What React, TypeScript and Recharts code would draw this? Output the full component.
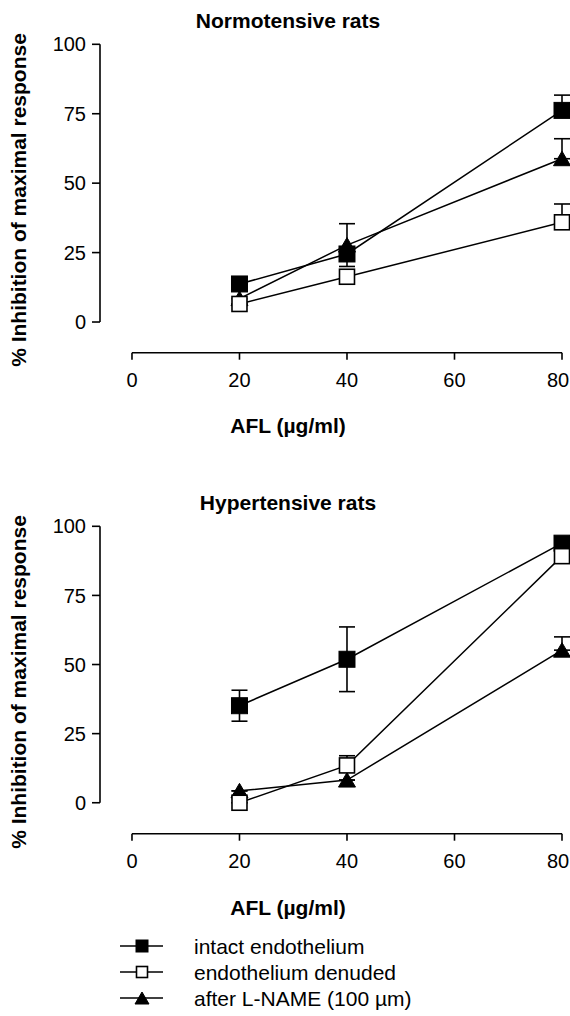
import React from 'react';
import { LineChart, Line, XAxis, YAxis, ErrorBar, ReferenceLine } from 'recharts';

const FONT = '"Liberation Sans", Arial, Helvetica, sans-serif';

const doses = [20, 40, 80];
const xTicks = [0, 20, 40, 60, 80];
const yTicks = [0, 25, 50, 75, 100];
const seriesNames = ['intact endothelium', 'endothelium denuded', 'after L-NAME (100 µm)'];
const xLabel = 'AFL (µg/ml)';
const yLabel = '% Inhibition of maximal response';

// Normotensive rats
const normIntact = [13.7, 24.5, 76.2];
const normIntactErr = [[0, 0], [0, 0], [0, 5.5]];
const normDenuded = [6.5, 16.3, 35.9];
const normDenudedErr = [[0, 0], [0, 0], [0, 6.6]];
const normLname = [8.4, 27.7, 58.8];
const normLnameErr = [[0, 4], [7.7, 7.7], [0, 7.2]];

// Hypertensive rats
const hypIntact = [35.1, 51.9, 93.9];
const hypIntactErr = [[5.6, 5.6], [11.7, 11.7], [0, 0]];
const hypDenuded = [0, 13.5, 89.2];
const hypDenudedErr = [[0, 0], [0, 3.5], [0, 0]];
const hypLname = [4.3, 8.2, 55.2];
const hypLnameErr = [[0, 0], [0, 0], [0, 4.8]];

const XMIN = -5.95;

function buildRows(intact: number[], intactErr: number[][], den: number[], denErr: number[][], ln: number[], lnErr: number[][]) {
  return doses.map((x, i) => ({
    x,
    intact: intact[i],
    intactErr: intactErr[i],
    denuded: den[i],
    denudedErr: denErr[i],
    lname: ln[i],
    lnameErr: lnErr[i],
  }));
}

const normRows = buildRows(normIntact, normIntactErr, normDenuded, normDenudedErr, normLname, normLnameErr);
const hypRows = buildRows(hypIntact, hypIntactErr, hypDenuded, hypDenudedErr, hypLname, hypLnameErr);

const FilledSquare = (p: any) => (
  <rect key={`fs-${p.index}`} x={p.cx - 8} y={p.cy - 8} width={16} height={16} fill="#000" stroke="#000" strokeWidth={1} />
);
const OpenSquare = (p: any) => (
  <rect key={`os-${p.index}`} x={p.cx - 7.5} y={p.cy - 7.5} width={15} height={15} fill="#fff" stroke="#000" strokeWidth={1.6} />
);
const Triangle = (p: any) => (
  <polygon key={`tr-${p.index}`} points={`${p.cx},${p.cy - 7.5} ${p.cx - 8.5},${p.cy + 7} ${p.cx + 8.5},${p.cy + 7}`} fill="#000" stroke="#000" strokeWidth={1} />
);

const XTick = (p: any) => {
  const v = p.payload.value;
  const dx = v === 80 ? -4 : 0;
  return (
    <text x={p.x + dx} y={p.y} dy="0.71em" textAnchor="middle" fill="#000" fontSize={20} fontFamily={FONT}>
      {v}
    </text>
  );
};

type PanelProps = { rows: any[]; ymin: number; top: number; mTop: number; mBottom: number; title: string };

function Panel({ rows, ymin, top, mTop, mBottom, title }: PanelProps) {
  const tickStyle = { fill: '#000', fontSize: 20, fontFamily: FONT };
  return (
    <div style={{ position: 'absolute', left: 0, top, width: 570, height: 440 }}>
      <LineChart width={570} height={400} data={rows} margin={{ top: mTop, right: 8, left: 40, bottom: mBottom }}>
        <XAxis
          type="number"
          dataKey="x"
          domain={[XMIN, 80]}
          ticks={xTicks}
          interval={0}
          axisLine={false}
          tickLine={{ stroke: '#000', strokeWidth: 1.6 }}
          tickSize={7}
          tickMargin={13}
          height={40}
          tick={XTick}
        />
        <YAxis
          type="number"
          domain={[ymin, 100]}
          ticks={yTicks}
          interval={0}
          axisLine={false}
          tickLine={{ stroke: '#000', strokeWidth: 1.6 }}
          tickSize={8}
          tickMargin={6}
          width={60}
          tick={tickStyle}
        />
        <ReferenceLine segment={[{ x: 0, y: ymin }, { x: 80, y: ymin }]} stroke="#000" strokeWidth={1.6} ifOverflow="visible" />
        <ReferenceLine segment={[{ x: XMIN, y: 0 }, { x: XMIN, y: 100 }]} stroke="#000" strokeWidth={1.6} ifOverflow="visible" />
        <Line type="linear" dataKey="lname" stroke="#000" strokeWidth={1.5} dot={Triangle} activeDot={false} isAnimationActive={false}>
          <ErrorBar dataKey="lnameErr" width={8} stroke="#000" strokeWidth={1.6} direction="y" />
        </Line>
        <Line type="linear" dataKey="intact" stroke="#000" strokeWidth={1.5} dot={FilledSquare} activeDot={false} isAnimationActive={false}>
          <ErrorBar dataKey="intactErr" width={8} stroke="#000" strokeWidth={1.6} direction="y" />
        </Line>
        <Line type="linear" dataKey="denuded" stroke="#000" strokeWidth={1.5} dot={OpenSquare} activeDot={false} isAnimationActive={false}>
          <ErrorBar dataKey="denudedErr" width={8} stroke="#000" strokeWidth={1.6} direction="y" />
        </Line>
      </LineChart>
      <div style={{ position: 'absolute', left: 288, top: 20, transform: 'translate(-50%,-50%)', whiteSpace: 'nowrap', fontFamily: FONT, fontWeight: 'bold', fontSize: 21, lineHeight: '21px', color: '#000' }}>
        {title}
      </div>
      <div style={{ position: 'absolute', left: 17.5, top: 200, transform: 'translate(-50%,-50%) rotate(-90deg)', whiteSpace: 'nowrap', fontFamily: FONT, fontWeight: 'bold', fontSize: 21, lineHeight: '21px', color: '#000' }}>
        {yLabel}
      </div>
      <div style={{ position: 'absolute', left: 288, top: 425, transform: 'translate(-50%,-50%)', whiteSpace: 'nowrap', fontFamily: FONT, fontWeight: 'bold', fontSize: 21, lineHeight: '21px', color: '#000' }}>
        {xLabel}
      </div>
    </div>
  );
}

function LegendMarker({ kind, cx, cy }: { kind: number; cx: number; cy: number }) {
  if (kind === 0) return <rect x={cx - 6} y={cy - 6} width={12} height={12} fill="#000" stroke="#000" />;
  if (kind === 1) return <rect x={cx - 5.5} y={cy - 5.5} width={11} height={11} fill="#fff" stroke="#000" strokeWidth={1.6} />;
  return <polygon points={`${cx},${cy - 6} ${cx - 7},${cy + 6} ${cx + 7},${cy + 6}`} fill="#000" stroke="#000" />;
}

function Legend() {
  const rowsY = [16, 42, 68];
  return (
    <svg width={400} height={86} style={{ position: 'absolute', left: 100, top: 930 }}>
      {seriesNames.map((name, i) => (
        <g key={name}>
          <line x1={20} x2={63} y1={rowsY[i]} y2={rowsY[i]} stroke="#000" strokeWidth={1.5} />
          <LegendMarker kind={i} cx={42} cy={rowsY[i]} />
          <text x={94} y={rowsY[i]} dy="0.36em" fontFamily={FONT} fontSize={21} fill="#000">
            {name}
          </text>
        </g>
      ))}
    </svg>
  );
}

export default function App() {
  return (
    <div style={{ position: 'absolute', left: 0, top: 0, width: 570, height: 1016, background: '#fff', overflow: 'hidden' }}>
      <Panel rows={normRows} ymin={-11.05} top={0} mTop={44.3} mBottom={7.3} title="Normotensive rats" />
      <Panel rows={hypRows} ymin={-11.2} top={482} mTop={44.3} mBottom={8.3} title="Hypertensive rats" />
      <Legend />
    </div>
  );
}
